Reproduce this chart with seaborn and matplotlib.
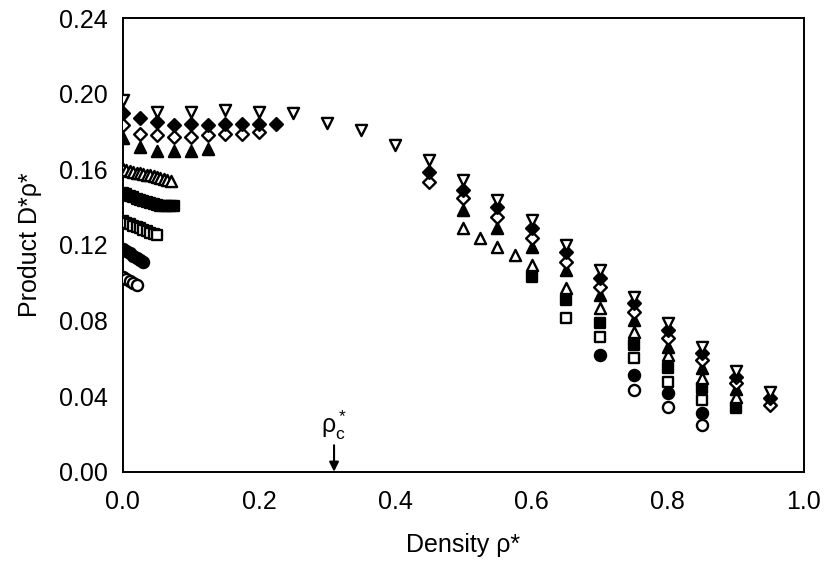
import matplotlib
matplotlib.use("Agg")
import matplotlib.pyplot as plt
import seaborn as sns
import pandas as pd

# ---- data ----
x_dtri = [0.0, 0.05, 0.10, 0.15, 0.20, 0.25, 0.30, 0.35, 0.40, 0.45, 0.50, 0.55,
          0.60, 0.65, 0.70, 0.75, 0.80, 0.85, 0.90, 0.95]
y_dtri = [0.197, 0.1906, 0.1906, 0.1915, 0.1906, 0.190, 0.1844, 0.181, 0.173, 0.165,
          0.1544, 0.1438, 0.1332, 0.120, 0.1068, 0.0926, 0.0786, 0.0662, 0.0535, 0.0424]

x_fdia = [0.0, 0.025, 0.05, 0.075, 0.10, 0.125, 0.15, 0.175, 0.20, 0.225,
          0.45, 0.50, 0.55, 0.60, 0.65, 0.70, 0.75, 0.80, 0.85, 0.90, 0.95]
y_fdia = [0.190, 0.187, 0.185, 0.1835, 0.184, 0.1835, 0.184, 0.184, 0.184, 0.184,
          0.1588, 0.1491, 0.1403, 0.1288, 0.1165, 0.1024, 0.0891, 0.075, 0.0627, 0.0503, 0.0388]

x_odia = [0.0, 0.025, 0.05, 0.075, 0.10, 0.125, 0.15, 0.175, 0.20,
          0.45, 0.50, 0.55, 0.60, 0.65, 0.70, 0.75, 0.80, 0.85, 0.90, 0.95]
y_odia = [0.1835, 0.179, 0.178, 0.177, 0.177, 0.178, 0.179, 0.179, 0.180,
          0.1535, 0.1447, 0.135, 0.1235, 0.1112, 0.0979, 0.0847, 0.0706, 0.0591, 0.0468, 0.0353]

x_ftri = [0.0, 0.025, 0.05, 0.075, 0.10, 0.125,
          0.50, 0.55, 0.60, 0.65, 0.70, 0.75, 0.80, 0.85, 0.90]
y_ftri = [0.1765, 0.172, 0.170, 0.170, 0.170, 0.171,
          0.1385, 0.1288, 0.1191, 0.1068, 0.0935, 0.0803, 0.0662, 0.0547, 0.0436]

x_otri = [0.0, 0.005, 0.01, 0.015, 0.02, 0.025, 0.03, 0.035, 0.04, 0.045, 0.05,
          0.055, 0.06, 0.065, 0.07,
          0.50, 0.525, 0.55, 0.575, 0.60, 0.65, 0.70, 0.75, 0.80, 0.85, 0.90]
y_otri = [0.1600, 0.1595, 0.1590, 0.1587, 0.1583, 0.1580, 0.1576, 0.1572, 0.1568,
          0.1563, 0.1558, 0.1553, 0.1548, 0.1544, 0.1540,
          0.1288, 0.1235, 0.1191, 0.1147, 0.1094, 0.0971, 0.0865, 0.0741, 0.0618,
          0.0494, 0.0397]

x_fsq = [0.0, 0.005, 0.01, 0.015, 0.02, 0.025, 0.03, 0.035, 0.04, 0.045, 0.05,
         0.055, 0.06, 0.065, 0.07, 0.075,
         0.60, 0.65, 0.70, 0.75, 0.80, 0.85, 0.90]
y_fsq = [0.1475, 0.1468, 0.1460, 0.1452, 0.1445, 0.1438, 0.1432, 0.1426, 0.1420,
         0.1415, 0.1411, 0.1408, 0.1406, 0.1405, 0.1405, 0.1406,
         0.1032, 0.0909, 0.0786, 0.0671, 0.0547, 0.0441, 0.0336]

x_osq = [0.0, 0.005, 0.01, 0.015, 0.02, 0.025, 0.03, 0.035, 0.04, 0.045, 0.05,
         0.65, 0.70, 0.75, 0.80, 0.85]
y_osq = [0.1325, 0.1318, 0.1310, 0.1302, 0.1295, 0.1288, 0.1280, 0.1273, 0.1265,
         0.1258, 0.1253,
         0.0812, 0.0715, 0.060, 0.0476, 0.038]

x_fcir = [0.0, 0.005, 0.01, 0.015, 0.02, 0.025, 0.03,
          0.70, 0.75, 0.80, 0.85]
y_fcir = [0.1180, 0.1168, 0.1155, 0.1143, 0.1132, 0.1122, 0.1112,
          0.0618, 0.0512, 0.0415, 0.0309]

x_ocir = [0.0, 0.005, 0.01, 0.015, 0.02,
          0.75, 0.80, 0.85]
y_ocir = [0.1030, 0.1018, 0.1007, 0.0997, 0.0990,
          0.0433, 0.0344, 0.0247]

rho_c = 0.31

x_ticks = [0.0, 0.2, 0.4, 0.6, 0.8, 1.0]
y_ticks = [0.00, 0.04, 0.08, 0.12, 0.16, 0.20, 0.24]

# ---- style ----
sns.set_style("white")
plt.rcParams['font.family'] = ['Liberation Sans', 'DejaVu Sans']
plt.rcParams['mathtext.fontset'] = 'custom'
plt.rcParams['mathtext.rm'] = 'Liberation Sans'
plt.rcParams['mathtext.it'] = 'Liberation Sans'
plt.rcParams['text.color'] = 'black'
plt.rcParams['axes.labelcolor'] = 'black'

fig = plt.figure(figsize=(8.25, 5.66), dpi=100)
ax = fig.add_axes([0.149, 0.1666, 0.8255, 0.8011])

series = [
    (x_ocir, y_ocir, 'o', 'white', 64),
    (x_fcir, y_fcir, 'o', 'black', 64),
    (x_osq, y_osq, 's', 'white', 56),
    (x_fsq, y_fsq, 's', 'black', 56),
    (x_otri, y_otri, '^', 'white', 64),
    (x_ftri, y_ftri, '^', 'black', 64),
    (x_odia, y_odia, 'D', 'white', 42),
    (x_fdia, y_fdia, 'D', 'black', 42),
    (x_dtri, y_dtri, 'v', 'white', 64),
]
for xs, ys, m, fc, s in series:
    df = pd.DataFrame({'x': xs, 'y': ys})
    sns.scatterplot(data=df, x='x', y='y', marker=m, s=s, color=fc,
                    edgecolor='black', linewidth=1.7, ax=ax, zorder=3)

ax.set_xlim(0, 1.0)
ax.set_ylim(0, 0.24)
ax.set_xticks(x_ticks)
ax.set_xticklabels([f"{v:.1f}" for v in x_ticks])
ax.set_yticks(y_ticks)
ax.set_yticklabels([f"{v:.2f}" for v in y_ticks])
ax.tick_params(axis='both', length=0, labelsize=18, colors='black')
ax.tick_params(axis='y', pad=11)
ax.tick_params(axis='x', pad=13)
for sp in ax.spines.values():
    sp.set_visible(True)
    sp.set_color('black')
    sp.set_linewidth(1.4)

ax.set_xlabel("Density ρ*", fontsize=18, labelpad=14)
ax.set_ylabel("Product D*ρ*", fontsize=18, labelpad=12)

ax.annotate('', xy=(rho_c, 0.0), xytext=(rho_c, 0.014),
            arrowprops=dict(arrowstyle='-|>', color='black', lw=1.5,
                            mutation_scale=14, shrinkA=0, shrinkB=0))
ax.text(rho_c, 0.0155, r'$\mathregular{ρ_c^*}$', ha='center', va='bottom', fontsize=18)

fig.savefig("out.png", dpi=100)
